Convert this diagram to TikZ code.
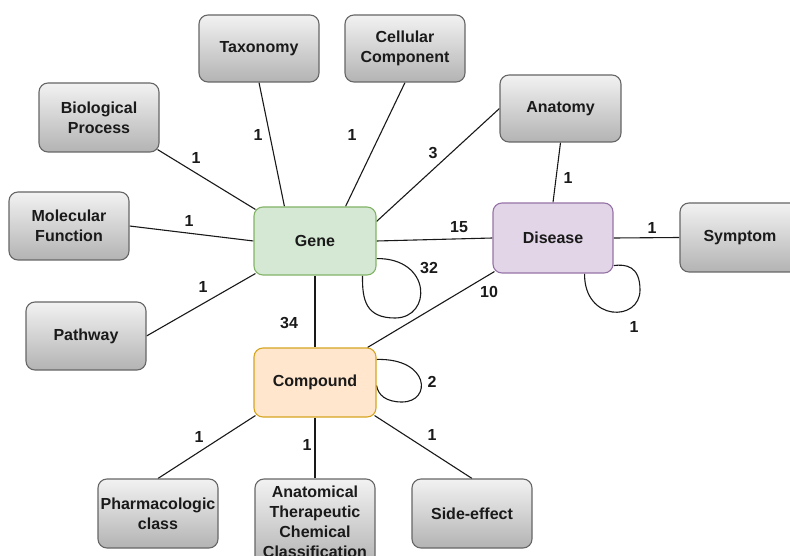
\documentclass[tikz,border=0pt]{standalone}
\usepackage{fontspec}
\setmainfont{Liberation Sans}
\usetikzlibrary{calc,backgrounds}
\definecolor{graytop}{HTML}{F2F2F2}
\definecolor{graybot}{HTML}{B3B3B3}
\definecolor{grayborder}{HTML}{666666}
\definecolor{genefill}{HTML}{D5E8D4}
\definecolor{genedraw}{HTML}{82B366}
\definecolor{disfill}{HTML}{E1D5E7}
\definecolor{disdraw}{HTML}{9673A6}
\definecolor{compfill}{HTML}{FFE6CC}
\definecolor{compdraw}{HTML}{D6A520}
\definecolor{txt}{HTML}{1A1A1A}
\tikzset{
  every node/.style={font=\fontsize{16}{20}\selectfont\bfseries, text=txt},
  box/.style={rectangle, rounded corners=9pt, line width=1.1pt, align=center, inner sep=0pt,
    minimum width=120pt, minimum height=68pt},
  graybox/.style={box, draw=grayborder, top color=graytop, bottom color=graybot},
  genebox/.style={box, draw=genedraw, fill=genefill, minimum width=122pt},
  disbox/.style={box, draw=disdraw, fill=disfill, minimum height=70pt},
  compbox/.style={box, draw=compdraw, fill=compfill, minimum width=122pt, minimum height=69pt},
  conn/.style={line width=1.1pt, draw=black!90},
  lbl/.style={inner sep=0pt}
}
\begin{document}
\begin{tikzpicture}[x=1pt,y=-1pt]
\useasboundingbox (0,0) rectangle (790,556);
% nodes
\node[graybox, minimum height=67pt] (tax) at (259,48.5) {Taxonomy};
\node[graybox, minimum height=67pt] (cell) at (405,48.5) {Cellular\\Component};
\node[graybox, minimum height=69pt] (bio) at (99,117.5) {Biological\\Process};
\node[graybox] (mol) at (69,226) {Molecular\\Function};
\node[graybox] (path) at (86,336) {Pathway};
\node[genebox] (gene) at (315,241) {Gene};
\node[graybox, minimum width=121pt, minimum height=67pt] (anat) at (560.5,108.5) {Anatomy};
\node[disbox] (dis) at (553,238) {Disease};
\node[graybox, minimum height=69pt] (sym) at (740,237.5) {Symptom};
\node[compbox] (comp) at (315,382.5) {Compound};
\node[graybox, minimum height=69pt] (pharm) at (158,513.5) {Pharmacologic\\class};
\node[graybox, minimum height=86pt] (atc) at (315,522) {Anatomical\\Therapeutic\\Chemical\\Classification};
\node[graybox, minimum height=69pt] (side) at (472,513.5) {Side-effect};
% connectors
\begin{scope}[on background layer]
\draw[conn] (tax.south) -- ($(gene.north west)+(31,0)$);
\draw[conn] (cell.south) -- ($(gene.north east)+(-31,0)$);
\draw[conn] ($(bio.south east)+(-2,-3)$) -- ($(gene.north west)+(2,3)$);
\draw[conn] (mol.east) -- (gene.west);
\draw[conn] (path.east) -- ($(gene.south west)+(2,-2)$);
\draw[conn] (anat.west) -- ($(gene.north east)+(0,15)$);
\draw[conn] (anat.south) -- (dis.north);
\draw[conn] (gene.east) -- (dis.west);
\draw[conn] (dis.east) -- (sym.west);
\draw[conn] ($(dis.south west)+(2,-2)$) -- ($(comp.north east)+(-9,0)$);
\draw[conn] (gene.south) -- (comp.north);
\draw[conn] ($(comp.south west)+(2,-2)$) -- (pharm.north);
\draw[conn] (comp.south) -- (atc.north);
\draw[conn] ($(comp.south east)+(-2,-2)$) -- (side.north);
% self loops
\draw[conn] ($(gene.south east)+(0,-17)$) .. controls (432,258) and (432,318) .. (395,318)
  .. controls (366,318) and (362,300) .. ($(gene.south east)+(-14,0)$);
\draw[conn] ($(dis.south east)+(-29,0)$) .. controls (584,322) and (640,322) .. (640,290)
  .. controls (640,266) and (626,264) .. ($(dis.south east)+(0,-8)$);
\draw[conn] ($(comp.north east)+(0,12)$) .. controls (430,358) and (432,402) .. (402,402)
  .. controls (386,402) and (378,395) .. ($(comp.north east)+(0,38)$);
\end{scope}
% labels
\node[lbl] (l1) at (258,135) {1};
\node[lbl] (l2) at (352,135) {1};
\node[lbl] (l3) at (196,158) {1};
\node[lbl] (l4) at (189,221) {1};
\node[lbl] (l5) at (203,287) {1};
\node[lbl] (l6) at (433,153) {3};
\node[lbl] (l7) at (568,178) {1};
\node[lbl] (l8) at (459,227) {15};
\node[lbl] (l9) at (652,228) {1};
\node[lbl] (l10) at (429,268) {32};
\node[lbl] (l11) at (489,292) {10};
\node[lbl] (l12) at (634,327) {1};
\node[lbl] (l13) at (289,323) {34};
\node[lbl] (l14) at (432,382) {2};
\node[lbl] (l15) at (199,437) {1};
\node[lbl] (l16) at (307,445) {1};
\node[lbl] (l17) at (432,435) {1};
\end{tikzpicture}
\end{document}
